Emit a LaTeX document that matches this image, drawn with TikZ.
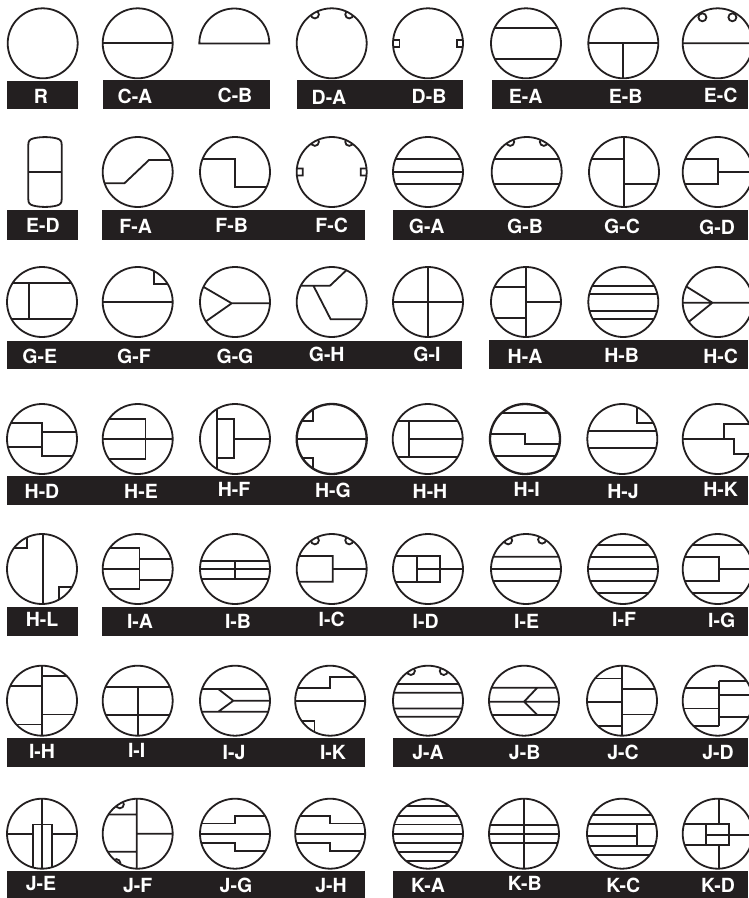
\documentclass[tikz,border=0pt]{standalone}
\usepackage{fontspec}
\setmainfont{TeX Gyre Heros}
\definecolor{ink}{HTML}{231F20}
\tikzset{
  ln/.style={line width=#1,draw=ink,line join=miter},
  ln/.default=1.8pt,
  bar/.style={fill=ink,draw=none},
  lab/.style={text=white,font=\fontsize{19.5}{21}\selectfont\bfseries,inner sep=0pt,anchor=center}
}
% optional: line width; centre x, centre y; inner path
\newcommand{\dgm}[4][1.8pt]{%
  \begin{scope}[shift={(#2,#3)}]
    \begin{scope}\clip (0,0) circle (35);\draw[ln=#1] #4;\end{scope}
    \draw[ln=#1] (0,0) circle (35);
  \end{scope}}
\newcommand{\lb}[3]{\node[lab] (lab-#3) at (#1,#2) {#3};}
\newcommand{\bp}[2]{(1.05*#1,1.05*#2) circle (4)}
\begin{document}
\begin{tikzpicture}[x=1pt,y=-1pt]
\useasboundingbox (0,0) rectangle (748,898);
\fill[white] (0,0) rectangle (748,898);
% bars
\fill[bar] (7,80.7) rectangle (78,108.7);
\fill[bar] (103,80) rectangle (270,108.7);
\fill[bar] (297,80) rectangle (463,108.7);
\fill[bar] (492,80) rectangle (748,108.7);
\fill[bar] (7,210) rectangle (78,240);
\fill[bar] (102,210) rectangle (365,240);
\fill[bar] (393,210) rectangle (748,240);
\fill[bar] (7,341) rectangle (462,368.7);
\fill[bar] (489,340) rectangle (748,368.7);
\fill[bar] (7,476) rectangle (748,504.7);
\fill[bar] (7,607) rectangle (78,635.7);
\fill[bar] (102,607) rectangle (748,635.7);
\fill[bar] (7,738) rectangle (365,767);
\fill[bar] (393,738) rectangle (748,767);
\fill[bar] (7,871) rectangle (365,898);
\fill[bar] (393,871) rectangle (748,898);
% row 1
\draw[ln] (42.7,43.3) circle (35);
\dgm{137.7}{43.3}{(-40,0)--(40,0)}
\draw[ln] (199.3,43.5) arc (180:360:35) -- cycle;
\dgm{331.7}{43.3}{\bp{-16}{-27.5} \bp{16.7}{-27.5}}
\dgm{428}{43.3}{(-36,-3.5) rectangle (-28.5,3.5) (36,-3.5) rectangle (29,3.5)}
\dgm{526}{43.3}{(-40,-15.7)--(40,-15.7) (-40,16)--(40,16)}
\dgm{623.3}{43.3}{(-40,0)--(40,0) (0,0)--(0,40)}
\dgm{717.7}{43.3}{(-40,0)--(40,0) (-15.3,-26) circle (4) (14.7,-26) circle (4)}
% row 2
\begin{scope}[shift={(45,172)}]
\draw[ln] (-16.7,-27) .. controls (-16.7,-31) and (-15.5,-32.5) .. (-12,-33.5) .. controls (-5,-35.4) and (5,-35.4) .. (12,-33.5) .. controls (15.5,-32.5) and (16.7,-31) .. (16.7,-27) -- (16.7,27) .. controls (16.7,31) and (15.5,32.5) .. (12,33.5) .. controls (5,35.4) and (-5,35.4) .. (-12,33.5) .. controls (-15.5,32.5) and (-16.7,31) .. (-16.7,27) -- cycle (-16.7,0) -- (16.7,0);
\end{scope}
\dgm{137.7}{172}{(-40,11.3)--(-13.3,11.3)--(11.3,-12)--(40,-12)}
\dgm{235}{172}{(-40,-12.7)--(0,-12.7)--(0,14.7)--(40,14.7)}
\dgm{331.7}{172}{\bp{-16}{-28.7} \bp{16.7}{-28.7} (-36,-3.5) rectangle (-29,3.5) (36,-3.5) rectangle (29,3.5)}
\dgm{428}{172}{(-40,-12.7)--(40,-12.7) (-40,0)--(40,0) (-40,12)--(40,12)}
\dgm{526.7}{172}{\bp{-15.7}{-28.7} \bp{16.3}{-28.7} (-40,-13)--(40,-13) (-40,12)--(40,12)}
\dgm{624}{172}{(0,-40)--(0,40) (-40,-13)--(0,-13) (0,12)--(40,12)}
\dgm{717.7}{172}{(-40,-13)--(0,-13)--(0,12)--(-40,12) (0,0)--(40,0)}
% row 3
\dgm{42}{302}{(-40,-18.7)--(40,-18.7) (-40,17.3)--(40,17.3) (-13.3,-18.7)--(-13.3,17.3)}
\dgm{137.7}{302}{(-40,0)--(40,0) (16.3,-40)--(16.3,-18.3)--(40,-18.3)}
\dgm{235}{302}{(-33,-16)--(-3.3,1.3)--(-30,20) (-3.3,1.3)--(40,1.3)}
\dgm{331.7}{302}{(-40,-16.3)--(-1.7,-16.3)--(16,-33) (-18.3,-16.3)--(-1,17.3)--(40,17.3)}
\dgm{428}{302}{(-40,0)--(40,0) (0,-40)--(0,40)}
\dgm{526}{302}{(0,-40)--(0,40) (-40,-14.7)--(0,-14.7) (-40,16.3)--(0,16.3) (0,0)--(40,0)}
\dgm{623.3}{302}{(-40,-16)--(40,-16) (-40,-7.7)--(40,-7.7) (-40,9)--(40,9) (-40,17.3)--(40,17.3)}
\dgm{717.7}{302}{(-33,-16.5)--(-5.3,0.7)--(-31,21.5) (-40,0.7)--(40,0.7)}
% row 4
\dgm{42}{439}{(-40,-15.7)--(0,-15.7)--(0,17)--(40,17) (-40,8.3)--(0,8.3) (0,-7.3)--(40,-7.3)}
\dgm{137.7}{439}{(-40,-20)--(7.7,-20)--(7.7,20)--(-40,20) (-40,0)--(40,0)}
\dgm{235}{439}{(-17.7,-40)--(-17.7,40) (-17.7,-20)--(-1,-20)--(-1,19.3)--(-17.7,19.3) (-1,0)--(40,0)}
\dgm[2.3pt]{331.7}{439}{(-40,0)--(40,0) (-19,-40)--(-19,-18.3)--(-40,-18.3) (-19,40)--(-19,19.3)--(-40,19.3)}
\dgm{427.7}{439}{(-40,-18)--(40,-18) (-40,18.3)--(40,18.3) (-19,-18)--(-19,18.3) (-19,0)--(40,0)}
\dgm[2.3pt]{525}{439}{(-40,-25.7)--(40,-25.7) (-40,17)--(40,17) (-40,-5)--(0,-5)--(0,5.3)--(40,5.3)}
\dgm{622.3}{439}{(-40,-8)--(40,-8) (-40,9.3)--(40,9.3) (15,-40)--(15,-15.7)--(40,-15.7)}
\dgm{717.7}{439}{(-40,0)--(16.3,0)--(16.3,15.3)--(40,15.3) (6.3,0)--(6.3,-15)--(40,-15)}
% row 5
\dgm{42}{569}{(1.3,-40)--(1.3,40) (-14.7,-40)--(-14.7,-20.7)--(-40,-20.7) (17,40)--(17,18.3)--(40,18.3)}
\dgm{137.7}{569}{(-40,-20.7)--(1.7,-20.7)--(1.7,20.3)--(-40,20.3) (-40,0)--(1.7,0) (1.7,-10)--(40,-10) (1.7,11)--(40,11)}
\dgm{235}{569}{(-40,-8.3)--(40,-8.3) (-40,0)--(40,0) (-40,10.3)--(40,10.3) (0,-8.3)--(0,10.3)}
\dgm{331.7}{569}{\bp{-16}{-27.3} \bp{16.7}{-27.3} (-40,-13)--(1,-13)--(1,12.7)--(-40,12.7) (1,0)--(40,0)}
\dgm{428}{569}{(-40,-13)--(12,-13)--(12,12.7)--(-40,12.7) (-11.3,-13)--(-11.3,12.7) (-11.3,0)--(40,0)}
\dgm{526}{569}{\bp{-17}{-27.3} \bp{15.3}{-28} (-40,-12.3)--(40,-12.3) (-40,0)--(40,0) (-40,12)--(40,12)}
\dgm{623}{569}{(-40,-24)--(40,-24) (-40,-12.3)--(40,-12.3) (-40,0)--(40,0) (-40,12)--(40,12) (-40,24.3)--(40,24.3)}
\dgm{717.7}{569}{(-40,-24)--(40,-24) (-40,24.3)--(40,24.3) (-40,-12.3)--(1,-12.3)--(1,12.3)--(-40,12.3) (1,0)--(40,0)}
% row 6
\dgm{42}{700.7}{(0,-40)--(0,40) (-40,-14.7)--(0,-14.7) (-40,23.7)--(0,23.7) (0,-25)--(40,-25) (0,13.7)--(40,13.7)}
\dgm{137.7}{700.7}{(-40,-14)--(40,-14) (-40,14.3)--(40,14.3) (0,-14)--(0,40)}
\dgm{235}{700.7}{(-40,-11.7)--(40,-11.7) (-40,11)--(40,11) (-16.7,-11.7)--(-1.7,0)--(-16.7,11) (-1.7,0)--(40,0)}
\dgm{330.2}{700.7}{(-40,0)--(40,0) (-40,-13)--(0,-13)--(0,-24)--(40,-24) (-15.7,40)--(-15.7,20)--(-40,20)}
\dgm{428}{700.7}{\bp{-16.3}{-28.3} \bp{15}{-28.3} (-40,-16.7)--(40,-16.7) (-40,-8)--(40,-8) (-40,7.7)--(40,7.7) (-40,16)--(40,16)}
\dgm{524}{700.7}{(-40,-13)--(40,-13) (-40,14.3)--(40,14.3) (-40,1)--(40,1) (13.3,-13)--(0,1)--(13.3,14.3)}
\dgm{622}{700.7}{(0,-40)--(0,40) (-40,-22.3)--(0,-22.3) (-40,1)--(0,1) (-40,25)--(0,25) (0,-11.7)--(40,-11.7) (0,13.7)--(40,13.7)}
\dgm{717.7}{700.7}{(1.3,-19.7)--(1.3,25) (-40,-13)--(1.3,-13) (-40,7.7)--(1.3,7.7) (-40,25)--(1.3,25) (1.3,-19.7)--(40,-19.7) (1.3,-5.7)--(40,-5.7) (1.3,16)--(40,16)}
% row 7
\dgm{42}{833.7}{(0,-40)--(0,40) (-9,40)--(-9,-9.3)--(10,-9.3)--(10,40) (-40,0)--(-9,0) (10,0)--(40,0)}
\dgm{137.7}{833.7}{(-1,-40)--(-1,40) (-1,0)--(40,0) (-40,-19.3)--(-1,-19.3) (-40,18)--(-1,18) \bp{-17}{-28} \bp{-20.3}{28}}
\dgm{235}{833.7}{(-40,0)--(40,0) (-40,-10.3)--(0,-10.3)--(0,-17.7)--(40,-17.7) (-40,9)--(0,9)--(0,17.3)--(40,17.3)}
\dgm{330.2}{833.7}{(-40,0)--(40,0) (-40,-17.7)--(0,-17.7)--(0,-10.3)--(40,-10.3) (-40,9)--(0,9)--(0,17.3)--(40,17.3)}
\dgm{428}{833.7}{(-40,-27.7)--(40,-27.7) (-40,-17.7)--(40,-17.7) (-40,-9.3)--(40,-9.3) (-40,0)--(40,0) (-40,9)--(40,9) (-40,18)--(40,18) (-40,27)--(40,27)}
\dgm{524}{833.7}{(0,-40)--(0,40) (-40,-9)--(40,-9) (-40,0)--(40,0) (-40,9)--(40,9)}
\dgm{622}{833.7}{(-40,-18.7)--(40,-18.7) (-40,-9.7)--(40,-9.7) (-40,12)--(40,12) (-40,21.3)--(40,21.3) (15,-9.7)--(15,12) (-40,2)--(15,2)}
\dgm{717.7}{833.7}{(1,-40)--(1,-9.7) (1,11.3)--(1,40) (-40,-9.7)--(11.3,-9.7)--(11.3,11.3)--(-40,11.3) (-12,-9.7)--(-12,11.3) (-12,1)--(40,1)}
% labels
\lb{41}{96.7}{R}\lb{135}{96.7}{C-A}\lb{235}{95}{C-B}\lb{329}{97}{D-A}\lb{429}{96.7}{D-B}\lb{525.7}{96.7}{E-A}\lb{625.7}{96.7}{E-B}\lb{720.7}{95}{E-C}
\lb{43}{225}{E-D}\lb{135.7}{226}{F-A}\lb{231.7}{225}{F-B}\lb{331.7}{225}{F-C}\lb{426.7}{226}{G-A}\lb{525}{226}{G-B}\lb{622}{226}{G-C}\lb{717}{227}{G-D}
\lb{39.7}{356}{G-E}\lb{134}{356}{G-F}\lb{235}{356}{G-G}\lb{326.7}{354}{G-H}\lb{427}{354}{G-I}\lb{525}{356}{H-A}\lb{621.7}{355}{H-B}\lb{720.7}{356}{H-C}
\lb{42}{491.7}{H-D}\lb{141}{491.7}{H-E}\lb{234}{489}{H-F}\lb{333}{490}{H-G}\lb{430}{491.7}{H-H}\lb{526.7}{489}{H-I}\lb{623}{491.7}{H-J}\lb{720.7}{489.7}{H-K}
\lb{42}{619}{H-L}\lb{140}{621}{I-A}\lb{238}{621}{I-B}\lb{331.7}{619}{I-C}\lb{425.7}{621}{I-D}\lb{526.7}{621}{I-E}\lb{624}{619}{I-F}\lb{721.7}{620}{I-G}
\lb{42}{751.7}{I-H}\lb{136.7}{750}{I-I}\lb{234}{752}{I-J}\lb{333}{752}{I-K}\lb{428}{752}{J-A}\lb{524.7}{752}{J-B}\lb{623}{752}{J-C}\lb{718}{752}{J-D}
\lb{41}{883}{J-E}\lb{137.7}{885}{J-F}\lb{236}{885}{J-G}\lb{331}{885}{J-H}\lb{428}{885}{K-A}\lb{524.7}{883}{K-B}\lb{623.3}{885}{K-C}\lb{718}{885}{K-D}
\end{tikzpicture}
\end{document}
